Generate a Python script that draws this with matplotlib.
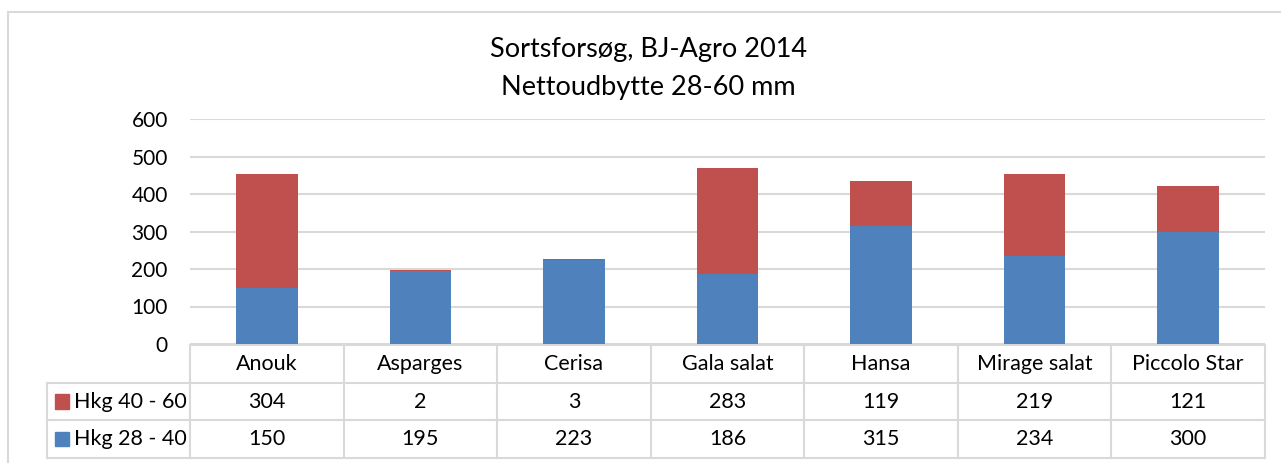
import matplotlib
matplotlib.use("Agg")
import matplotlib.pyplot as plt
from matplotlib.patches import Rectangle
from matplotlib.transforms import blended_transform_factory

plt.rcParams['font.family'] = ['Lato', 'DejaVu Sans']

categories = ['Anouk', 'Asparges', 'Cerisa', 'Gala salat', 'Hansa', 'Mirage salat', 'Piccolo Star']
hkg_28_40 = [150, 195, 223, 186, 315, 234, 300]
hkg_40_60 = [304, 2, 3, 283, 119, 219, 121]
series_names = ['Hkg 40 - 60', 'Hkg 28 - 40']

BLUE = '#4F81BD'
RED = '#C0504D'
GRID = '#D9D9D9'

W, H = 1281, 463
fig = plt.figure(figsize=(W / 100, H / 100), dpi=100)


def fx(px):
    return px / W


def fy(py):
    return 1 - py / H


# outer chart frame
fig.patches.append(Rectangle((fx(8), fy(470)), fx(1290) - fx(8), fy(12) - fy(470),
                             transform=fig.transFigure, fill=False, edgecolor=GRID, lw=1.5))

left, right, top, bottom = 190, 1265, 119, 344
ax = fig.add_axes([fx(left), fy(bottom), fx(right) - fx(left), fy(top) - fy(bottom)])

x = range(len(categories))
ax.bar(x, hkg_28_40, width=0.4, color=BLUE, zorder=3)
ax.bar(x, hkg_40_60, width=0.4, bottom=hkg_28_40, color=RED, zorder=3)

ax.set_xlim(-0.5, len(categories) - 0.5)
ax.set_ylim(0, 600)
ax.set_yticks(range(0, 601, 100))
ax.tick_params(axis='y', length=0, labelsize=15, pad=16)
ax.set_xticks([])
ax.grid(axis='y', color=GRID, lw=1.5, zorder=0)
for s in ax.spines.values():
    s.set_visible(False)

fig.text(0.506, fy(49), 'Sortsforsøg, BJ-Agro 2014', ha='center', va='center', fontsize=19.5)
fig.text(0.506, fy(88), 'Nettoudbytte 28-60 mm', ha='center', va='center', fontsize=19.5)

# data table under the axis
tr = blended_transform_factory(ax.transData, fig.transFigure)
rows_y = [345, 383, 420, 458]
n = len(categories)
lw = 1.5
ax.plot([-0.5, n - 0.5], [fy(rows_y[0])] * 2, transform=tr, color=GRID, lw=lw, clip_on=False)
for yy in rows_y[1:]:
    fig.add_artist(plt.Line2D([fx(47), fx(right)], [fy(yy)] * 2, color=GRID, lw=lw))
for i in range(n + 1):
    ax.plot([i - 0.5, i - 0.5], [fy(rows_y[0]), fy(rows_y[-1])], transform=tr,
            color=GRID, lw=lw, clip_on=False)
fig.add_artist(plt.Line2D([fx(47), fx(47)], [fy(rows_y[1]), fy(rows_y[-1])], color=GRID, lw=lw))

fs = 15.5
for i, cat in enumerate(categories):
    ax.text(i, fy((rows_y[0] + rows_y[1]) / 2), cat, transform=tr, ha='center', va='center', fontsize=fs)
    ax.text(i, fy((rows_y[1] + rows_y[2]) / 2), str(hkg_40_60[i]), transform=tr,
            ha='center', va='center', fontsize=fs)
    ax.text(i, fy((rows_y[2] + rows_y[3]) / 2), str(hkg_28_40[i]), transform=tr,
            ha='center', va='center', fontsize=fs)

for r, (name, col) in enumerate(zip(series_names, [RED, BLUE])):
    yc = (rows_y[r + 1] + rows_y[r + 2]) / 2
    fig.patches.append(Rectangle((fx(55), fy(yc + 7)), fx(14), fy(yc - 7) - fy(yc + 7),
                                 transform=fig.transFigure, color=col))
    fig.text(fx(74), fy(yc), name, ha='left', va='center', fontsize=fs)

fig.savefig('out.png', dpi=100)
